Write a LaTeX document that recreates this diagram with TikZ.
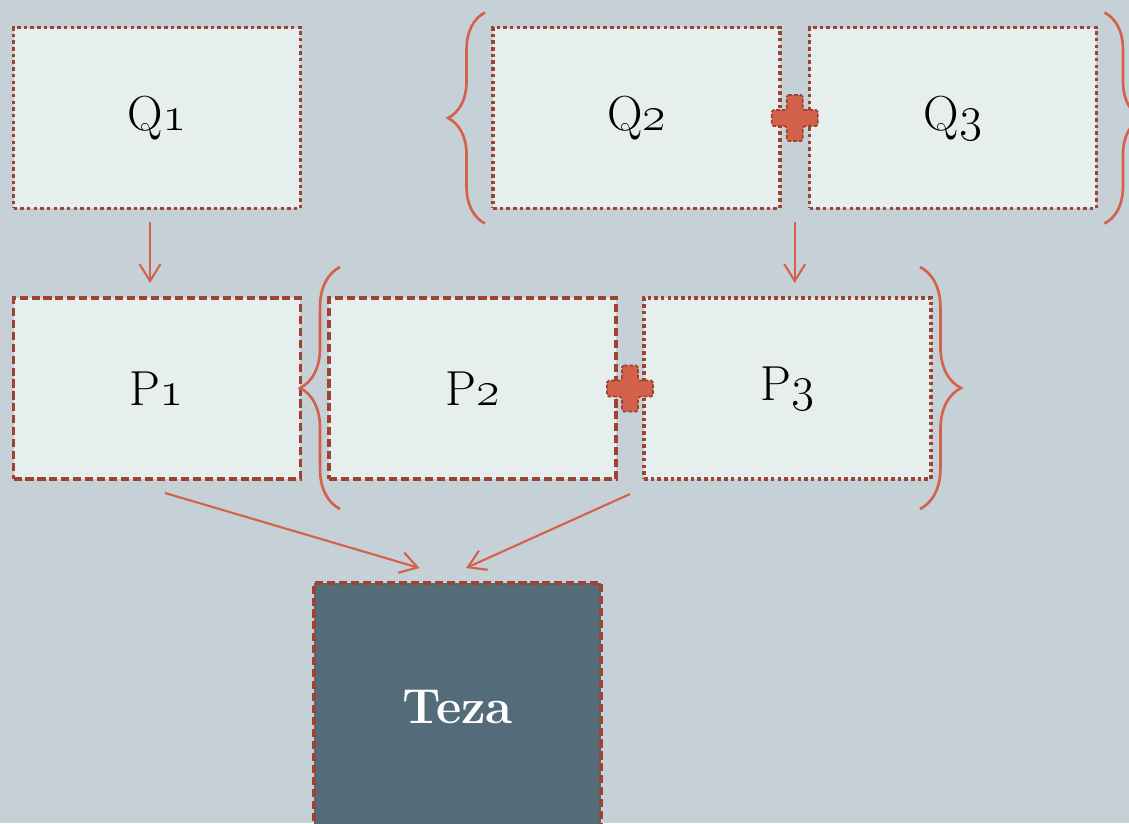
\RequirePackage{fix-cm}
\documentclass[tikz,border=0pt]{standalone}
\usepackage{tikz}
\usetikzlibrary{calc, positioning, arrows.meta, decorations.pathreplacing}
\definecolor{xback}{HTML}{C6D1D7}
\definecolor{xpale}{HTML}{E6EEEE}
\definecolor{xrust}{HTML}{9E4331}
\definecolor{xcoral}{HTML}{D4614A}
\definecolor{xslate}{HTML}{546B79}
\tikzset{
  card/.style = {draw=xrust, fill=xpale, outer sep=0pt, inner sep=0pt,
    minimum width=5.74cm, minimum height=3.62cm, font=\fontsize{28}{34}\selectfont},
  dotcard/.style = {card, line width=2pt, dash pattern=on 2pt off 1.8pt},
  dashcard/.style = {card, line width=1.8pt, dash pattern=on 4.6pt off 2.2pt},
  link/.style = {xcoral, line width=1.2pt, -{Straight Barb[length=0.34cm, width=0.42cm]}},
  curly/.style = {xcoral, line width=1.5pt, decorate, decoration={brace, amplitude=#1}},
  pics/plus/.style = {code={
    \draw[xrust, fill=xcoral, line width=1pt, dash pattern=on 2.2pt off 1pt, rounded corners=1pt]
      (-8,-23) -- (8,-23) -- (8,-8) -- (23,-8) -- (23,8) -- (8,8) -- (8,23)
      -- (-8,23) -- (-8,8) -- (-23,8) -- (-23,-8) -- (-8,-8) -- cycle;
  }},
}

\begin{document}
\begin{tikzpicture}[x=0.02cm, y=-0.02cm]
  \useasboundingbox (0,0) rectangle (1129,823);
  \fill[xback] (0,0) rectangle (1129,823);
  \clip (0,0) rectangle (1129,823);

  % question row
  \node[dotcard] (Q1) at (157,118) {Q\oldstylenums{1}};
  \node[dotcard] (Q2) at (636.5,118) {Q\oldstylenums{2}};
  \node[dotcard] (Q3) at (953,118) {Q\oldstylenums{3}};
  \coordinate (qplus) at ($(Q2.east)!0.5!(Q3.west)$);
  \pic at (qplus) {plus};
  \draw[curly=0.74cm] ([shift={(-8,15)}]Q2.south west) -- ([shift={(-8,-15)}]Q2.north west);
  \draw[curly=0.74cm] ([shift={(8,-15)}]Q3.north east) -- ([shift={(8,15)}]Q3.south east);

  % premise row
  \node[dashcard] (P1) at (157,388.5) {P\oldstylenums{1}};
  \node[dashcard] (P2) at (472.5,388.5) {P\oldstylenums{2}};
  \node[dotcard]  (P3) at (787.5,388.5) {P\oldstylenums{3}};
  \coordinate (pplus) at ($(P2.east)!0.5!(P3.west)$);
  \pic at (pplus) {plus};
  \draw[curly=0.8cm] ([shift={(11,30)}]P2.south west) -- ([shift={(11,-31)}]P2.north west);
  \draw[curly=0.82cm] ([shift={(-11,-31)}]P3.north east) -- ([shift={(-11,30)}]P3.south east);

  \node[draw=xrust, fill=xslate, line width=1.8pt, dash pattern=on 4.6pt off 2.2pt,
    outer sep=0pt, minimum width=5.74cm, minimum height=4.96cm, text=white,
    font=\fontsize{28}{34}\selectfont\bfseries] (teza) at (457.5,707) {Teza};

  \draw[link] ([shift={(-7,14)}]Q1.south) -- ([shift={(-7,-15)}]P1.north);
  \draw[link] ($(Q2.south -| qplus)+(0,14)$) -- ($(P3.north -| qplus)+(0,-15)$);
  \draw[link] ([shift={(8,14)}]P1.south) -- ([shift={(-38,-15)}]teza.north);
  \draw[link] ($(P3.south -| pplus)+(0,15)$) -- ([shift={(8.5,-15)}]teza.north);
\end{tikzpicture}
\end{document}
